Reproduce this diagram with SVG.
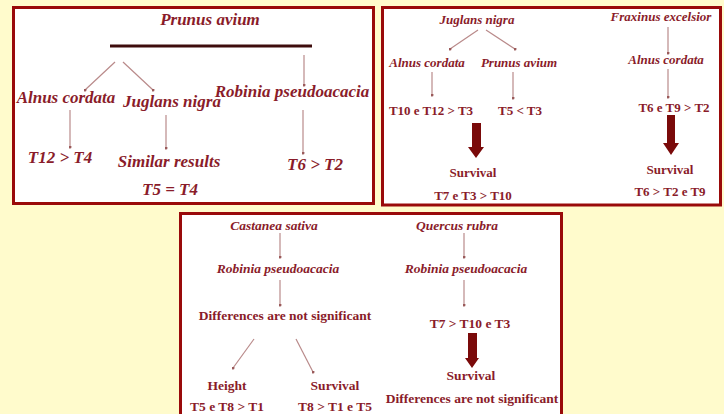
<svg xmlns="http://www.w3.org/2000/svg" width="724" height="414" viewBox="0 0 724 414">
<defs>
<style>
.bg{fill:#fffbcc}
.box{fill:#ffffff;stroke:#990a0a;stroke-width:3}
text{font-family:"Liberation Serif","Times New Roman",serif;fill:#8a1c2a;font-weight:bold;text-anchor:middle}
.i17{font-size:17px;font-style:italic}
.i13{font-size:13px;font-style:italic}
.i135{font-size:13.5px;font-style:italic}
.b13{font-size:13px}
.b135{font-size:13.5px}
.con{stroke:#b98a8a;stroke-width:1.2;fill:none;marker-end:url(#dot)}
.bar{stroke:#3e0c0c;stroke-width:3}
.big{fill:#7a0a0a}
</style>
<marker id="dot" viewBox="0 0 4 4" refX="2" refY="2" markerWidth="3" markerHeight="3" markerUnits="userSpaceOnUse"><circle cx="2" cy="2" r="2" fill="#9a5a5a"/></marker>
</defs>
<rect class="bg" x="0" y="0" width="724" height="414"/>
<rect class="box" x="13.5" y="7.5" width="360" height="196"/>
<rect class="box" x="382.5" y="7.5" width="338" height="197.5"/>
<rect class="box" x="180.5" y="213.5" width="381" height="212"/>

<g id="connectors">
<line class="bar" x1="110" y1="46" x2="312" y2="46"/>
<line class="con" x1="115" y1="62" x2="85" y2="90"/>
<line class="con" x1="123" y1="62" x2="153" y2="90"/>
<line class="con" x1="304" y1="55" x2="304" y2="85"/>
<line class="con" x1="70" y1="110" x2="70" y2="147"/>
<line class="con" x1="166" y1="115" x2="166" y2="148"/>
<line class="con" x1="303" y1="110" x2="303" y2="153"/>

<line class="con" x1="478" y1="30" x2="450" y2="49"/>
<line class="con" x1="486" y1="30" x2="515" y2="49"/>
<line class="con" x1="432" y1="72" x2="432" y2="95"/>
<line class="con" x1="513" y1="72" x2="513" y2="98"/>
<polygon class="big" points="472,123 481,123 481,147 484,147 476,158 468,147 472,147"/>
<line class="con" x1="668" y1="27" x2="668" y2="53"/>
<line class="con" x1="668" y1="69" x2="668" y2="97"/>
<polygon class="big" points="667,115 675,115 675,143 679,143 671,155 663,143 667,143"/>

<line class="con" x1="280" y1="233" x2="280" y2="257"/>
<line class="con" x1="280" y1="280" x2="280" y2="305"/>
<line class="con" x1="254" y1="339" x2="233" y2="368"/>
<line class="con" x1="296" y1="339" x2="313" y2="372"/>
<line class="con" x1="464" y1="233" x2="464" y2="257"/>
<line class="con" x1="464" y1="280" x2="464" y2="305"/>
<polygon class="big" points="468,333 477,333 477,358 479,358 472,368 465,358 468,358"/>
</g>

<g id="n-prunus1"><text class="i17" x="210" y="25">Prunus avium</text></g>
<g id="n-alnus1"><text class="i17" x="66" y="103">Alnus cordata</text></g>
<g id="n-juglans1"><text class="i17" x="172" y="107">Juglans nigra</text></g>
<g id="n-robinia1"><text class="i17" x="292" y="97">Robinia pseudoacacia</text></g>
<g id="n-t12"><text class="i17" x="60" y="163">T12 &gt; T4</text></g>
<g id="n-similar"><text class="i17" x="169" y="167">Similar results</text></g>
<g id="n-t5t4"><text class="i17" x="170" y="195">T5 = T4</text></g>
<g id="n-t6t2"><text class="i17" x="315" y="170">T6 &gt; T2</text></g>

<g id="n-juglans2"><text class="i13" x="477" y="24">Juglans nigra</text></g>
<g id="n-alnus2"><text class="i13" x="427" y="67">Alnus cordata</text></g>
<g id="n-prunus2"><text class="i13" x="519" y="67">Prunus avium</text></g>
<g id="n-t10"><text class="b13" x="431" y="115">T10 e T12 &gt; T3</text></g>
<g id="n-t5t3"><text class="b13" x="520" y="115">T5 &lt; T3</text></g>
<g id="n-surv2a"><text class="b13" x="473" y="177">Survival</text></g>
<g id="n-t7"><text class="b13" x="473" y="200">T7 e T3 &gt; T10</text></g>
<g id="n-fraxinus"><text class="i13" x="661" y="21">Fraxinus excelsior</text></g>
<g id="n-alnus3"><text class="i13" x="666" y="64">Alnus cordata</text></g>
<g id="n-t6t9"><text class="b13" x="674" y="112">T6 e T9 &gt; T2</text></g>
<g id="n-surv2b"><text class="b13" x="670" y="174">Survival</text></g>
<g id="n-t6t2t9"><text class="b13" x="670" y="196">T6 &gt; T2 e T9</text></g>

<g id="n-castanea"><text class="i135" x="274" y="230">Castanea sativa</text></g>
<g id="n-robinia2"><text class="i135" x="278" y="273">Robinia pseudoacacia</text></g>
<g id="n-diff1"><text class="b135" x="285" y="320">Differences are not significant</text></g>
<g id="n-height"><text class="b135" x="227" y="390">Height</text></g>
<g id="n-surv3a"><text class="b135" x="335" y="390">Survival</text></g>
<g id="n-t5t8"><text class="b135" x="227" y="411">T5 e T8 &gt; T1</text></g>
<g id="n-t8"><text class="b135" x="335" y="411">T8 &gt; T1 e T5</text></g>
<g id="n-quercus"><text class="i135" x="457" y="230">Quercus rubra</text></g>
<g id="n-robinia3"><text class="i135" x="466" y="273">Robinia pseudoacacia</text></g>
<g id="n-t7t10"><text class="b135" x="470" y="328">T7 &gt; T10 e T3</text></g>
<g id="n-surv3b"><text class="b135" x="471" y="380">Survival</text></g>
<g id="n-diff2"><text class="b135" x="472" y="403">Differences are not significant</text></g>
</svg>
